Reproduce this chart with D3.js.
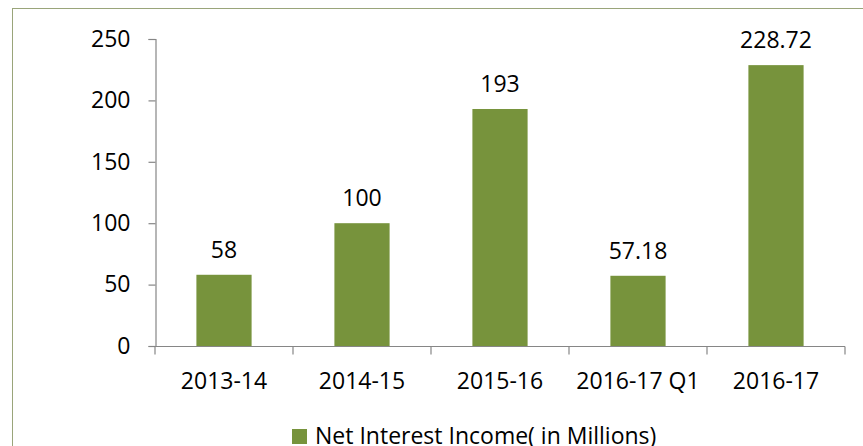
<!DOCTYPE html>
<html><head><meta charset="utf-8">
<script src="https://cdnjs.cloudflare.com/ajax/libs/d3/7.8.5/d3.min.js"></script>
<style>body{margin:0;background:#fff;}svg{display:block;}</style>
</head><body>
<script>
const categories = ["2013-14","2014-15","2015-16","2016-17 Q1","2016-17"];
const values = [58, 100, 193, 57.18, 228.72];
const valueLabels = ["58","100","193","57.18","228.72"];
const yTicks = [0, 50, 100, 150, 200, 250];
const seriesName = "Net Interest Income( in Millions)";

const W = 863, H = 446;
const font = "'Open Sans', sans-serif";
const fs = 23;
const svg = d3.select("body").append("svg").attr("width", W).attr("height", H);
svg.append("rect").attr("width", W).attr("height", H).attr("fill", "#fff");
svg.append("rect").attr("x", 12.5).attr("y", 8.5).attr("width", W + 20).attr("height", H + 20)
  .attr("fill", "none").attr("stroke", "#9aa57a").attr("stroke-width", 1);

const x0 = 155, x1 = 845, y0 = 346, y1 = 39;
const x = d3.scaleBand().domain(categories).range([x0, x1]).paddingInner(0.6).paddingOuter(0.3);
const xb = d3.scaleBand().domain(categories).range([x0, x1]);
const y = d3.scaleLinear().domain([0, 250]).range([y0, y1]);
const axisColor = "#868686";

// y axis
const ya = svg.append("g").attr("transform", `translate(${x0 + 0.5},0)`)
  .call(d3.axisLeft(y).tickValues(yTicks).tickSize(7).tickPadding(18));
ya.select(".domain").attr("stroke", axisColor).attr("stroke-width", 1.2);
ya.selectAll(".tick line").attr("stroke", axisColor).attr("stroke-width", 1.2);
ya.selectAll(".tick text").attr("font-family", font).attr("font-size", fs).attr("fill", "#000");

// bars
svg.selectAll(".bar").data(values).enter().append("rect")
  .attr("x", (d, i) => x(categories[i]))
  .attr("width", x.bandwidth())
  .attr("y", d => y(d))
  .attr("height", d => y0 - y(d))
  .attr("fill", "#77933C");

// value labels
svg.selectAll(".vl").data(values).enter().append("text")
  .attr("x", (d, i) => x(categories[i]) + x.bandwidth() / 2)
  .attr("y", d => y(d) - 17)
  .attr("text-anchor", "middle")
  .attr("font-family", font).attr("font-size", fs).attr("fill", "#000")
  .text((d, i) => valueLabels[i]);

// x axis
const xa = svg.append("g").attr("transform", `translate(0,${y0 + 0.5})`);
xa.append("line").attr("x1", x0).attr("x2", x1).attr("stroke", axisColor).attr("stroke-width", 1.2);
const bounds = categories.map(c => xb(c)).concat([x1]);
xa.selectAll(".tk").data(bounds).enter().append("line")
  .attr("x1", d => d).attr("x2", d => d).attr("y1", 0).attr("y2", 8)
  .attr("stroke", axisColor).attr("stroke-width", 1.2);
xa.selectAll(".xl").data(categories).enter().append("text")
  .attr("x", d => xb(d) + xb.bandwidth() / 2)
  .attr("y", 42)
  .attr("text-anchor", "middle")
  .attr("font-family", font).attr("font-size", fs).attr("fill", "#000")
  .text(d => d);

// legend
svg.append("rect").attr("x", 292).attr("y", 429).attr("width", 15).attr("height", 15).attr("fill", "#77933C");
svg.append("text").attr("x", 315).attr("y", 444)
  .attr("font-family", font).attr("font-size", fs).attr("fill", "#000").text(seriesName);
</script>
</body></html>
